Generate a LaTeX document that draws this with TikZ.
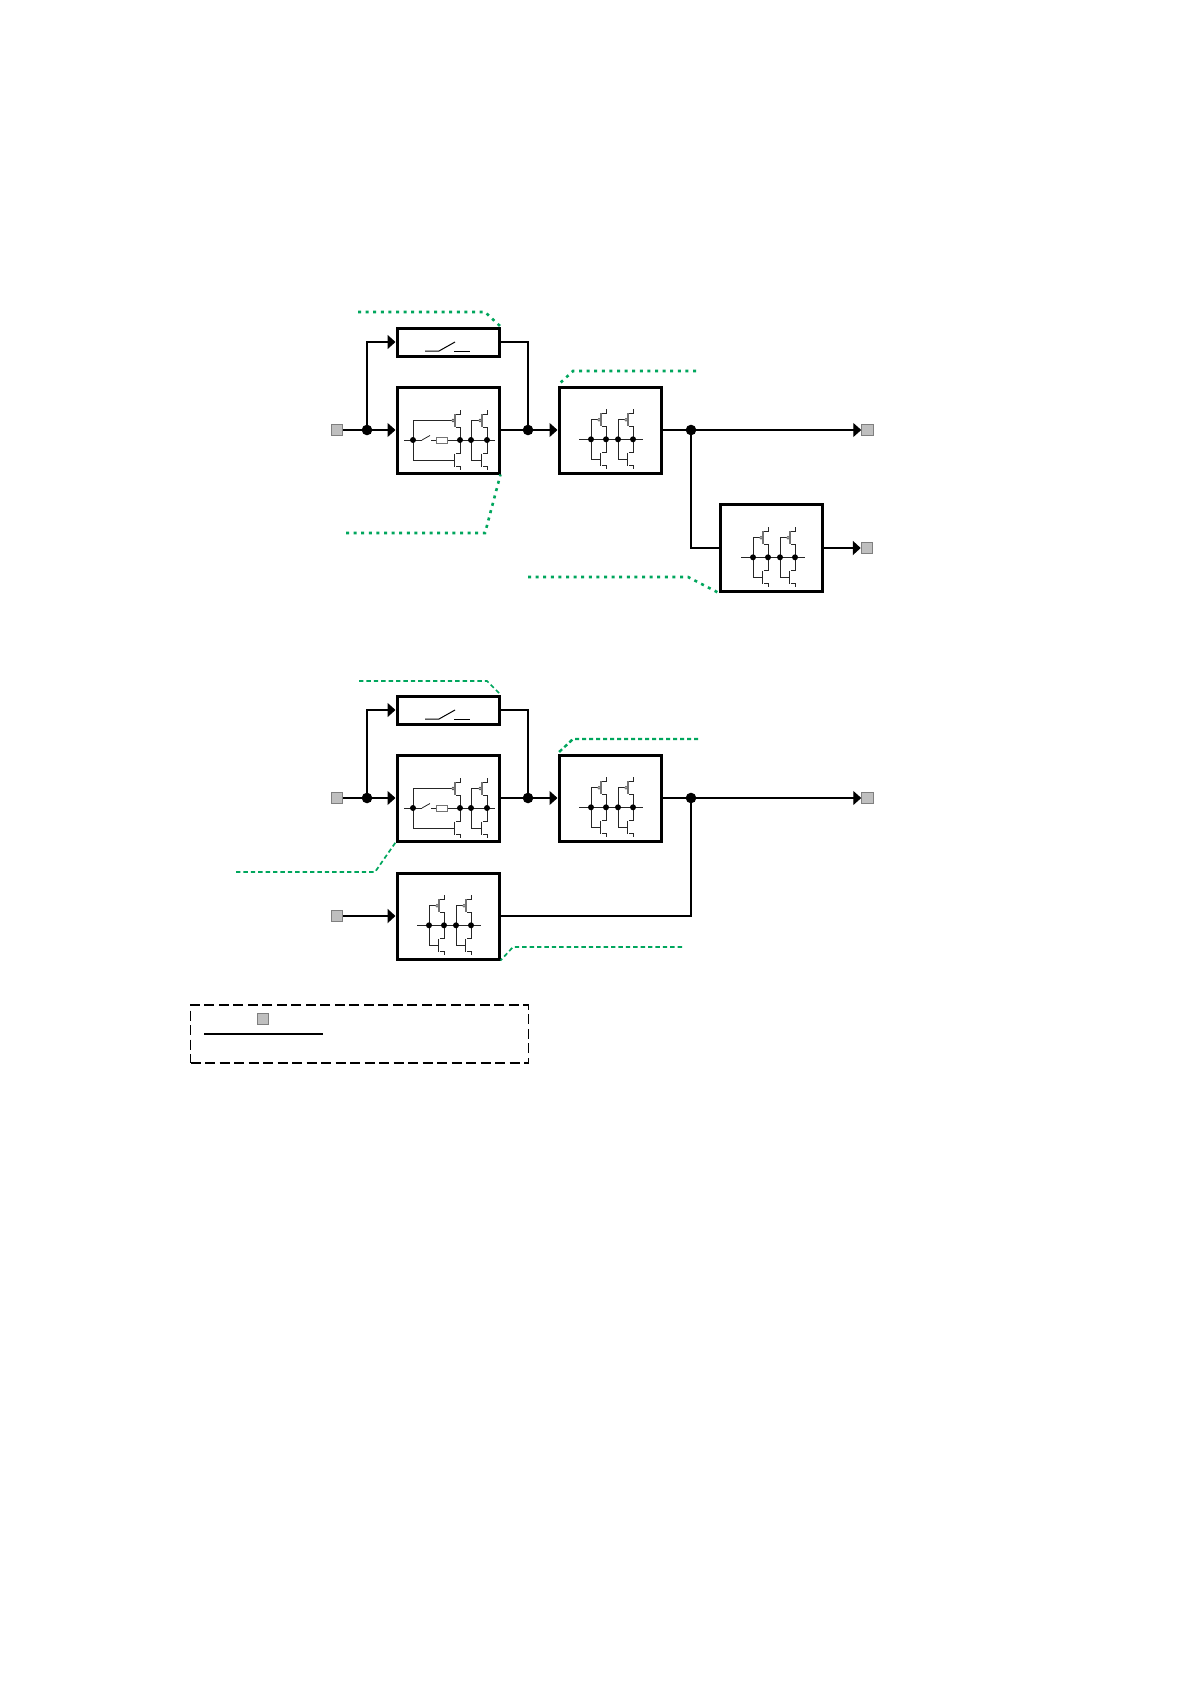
\documentclass[tikz,border=0pt]{standalone}
\usetikzlibrary{arrows.meta}
\definecolor{grn}{HTML}{00A65D}
\definecolor{sqf}{HTML}{BFBFBF}
\definecolor{sqd}{HTML}{7F7F7F}
\tikzset{
  x=1pt,y=-1pt,
  blockbox/.style={draw=black,line width=3pt,fill=white,minimum width=102pt,minimum height=86pt,inner sep=0pt},
  swbox/.style={blockbox,minimum height=28pt},
  port/.style={draw=sqd,line width=1pt,fill=sqf,minimum size=11.5pt,inner sep=0pt},
  bigdot/.style={circle,fill=black,minimum size=10.6pt,inner sep=0pt},
  wire/.style={draw=black,line width=1.1pt},
  heavywire/.style={draw=black,line width=2.1pt},
  arr/.style={-{Triangle[length=8pt,width=14pt]}},
  note/.style={draw=grn,line width=2.6pt,dash pattern=on 3pt off 4.6pt},
  notethin/.style={draw=grn,line width=1.7pt,dash pattern=on 4.4pt off 3pt},
  ckt/.style={draw=black!85,line width=0.8pt},
  cktgray/.style={draw=black!55,line width=0.9pt},
  tiny/.style={circle,fill=black,minimum size=6pt,inner sep=0pt},
  bub/.style={circle,draw=black!70,fill=white,line width=0.6pt,minimum size=2.8pt,inner sep=0pt},
}
% one gate pair: left rail a, right rail b, at height y
\newcommand{\tgate}[3]{%
  \draw[ckt] (#1,#3) -- (#1,#3-19.5) -- (#2-8,#3-19.5);
  \node[bub] at (#2-7,#3-19.5) {};
  \draw[cktgray,line width=1.3pt] (#2-5,#3-26) -- (#2-5,#3-13);
  \draw[ckt] (#2-4,#3-26) -- (#2,#3-26) -- (#2,#3-30);
  \draw[ckt] (#2-4,#3-13) -- (#2,#3-13) -- (#2,#3);
  \draw[ckt] (#1,#3) -- (#1,#3+20) -- (#2-6,#3+20);
  \draw[ckt,line width=1.2pt] (#2-5.5,#3+13.5) -- (#2-5.5,#3+26.5);
  \draw[ckt] (#2-4,#3+13.5) -- (#2,#3+13.5) -- (#2,#3);
  \draw[ckt] (#2-4,#3+26.5) -- (#2,#3+26.5) -- (#2,#3+30);
  \node[tiny] at (#1,#3) {};
  \node[tiny] at (#2,#3) {};
}
% double gate block, left edge x, mid y
\newcommand{\dgate}[2]{%
  \draw[ckt] (#1+21,#2+9.3) -- (#1+85,#2+9.3);
  \tgate{#1+33}{#1+48}{#2+9.3}
  \tgate{#1+60}{#1+75}{#2+9.3}
}
% gate block with bypass switch and resistor
\newcommand{\sgate}[2]{%
  \draw[ckt] (#1+8,#2+10) -- (#1+26,#2+10);
  \draw[ckt] (#1+26,#2+10) -- (#1+34,#2+5.5);
  \draw[ckt] (#1+35,#2+10) -- (#1+40,#2+10);
  \draw[ckt] (#1+51,#2+10) -- (#1+99,#2+10);
  \draw[cktgray,fill=white] (#1+40,#2+7.5) rectangle (#1+51,#2+13);
  \tgate{#1+17}{#1+64}{#2+10}
  \tgate{#1+75}{#1+91}{#2+10}
}
% contact drawn in the narrow block
\newcommand{\swsym}[2]{%
  \draw[black,line width=1pt] (#1+29,#2+9) -- (#1+43,#2+9) -- (#1+59,#2);
  \draw[black,line width=1pt] (#1+58,#2+9) -- (#1+74,#2+9);
}
\begin{document}
\begin{tikzpicture}
\useasboundingbox (0,0) rectangle (1191,1684);
\fill[white] (0,0) rectangle (1191,1684);

% ---- upper diagram ----
\node[swbox] (swA) at (448,342) {};
\node[blockbox] (gA) at (448,430) {};
\node[blockbox] (hA) at (610,430) {};
\node[blockbox,minimum height=87pt] (kA) at (771.5,548) {};
\node[port] (inA) at (337,430) {};
\node[port] (outA) at (867.5,430) {};
\node[port] (outB) at (867,548) {};
\node[bigdot] (jA) at (367,430) {};
\node[bigdot] (jB) at (528,430) {};
\node[bigdot] (jC) at (691,430) {};
\coordinate (nA1) at (358,312);
\coordinate (nA2) at (485,312);
\coordinate (nB1) at (346,533);
\coordinate (nB2) at (485,533);
\coordinate (nC1) at (573,371);
\coordinate (nC2) at (696,371);
\coordinate (nD1) at (528,577);
\coordinate (nD2) at (688,577);

\draw[wire] (inA) -- (jA.center);
\draw[wire,arr] (jA.center) -- (gA.west);
\draw[wire,line width=1.5pt,arr] (jA.center) |- (swA.west);
\draw[wire,line width=1.5pt] (swA.east) -| (jB.center);
\draw[wire] (gA.east) -- (jB.center);
\draw[wire,arr] (jB.center) -- (hA.west);
\draw[wire] (hA.east) -- (jC.center);
\draw[wire,arr] (jC.center) -- (outA);
\draw[wire,line width=1.5pt] (jC.center) |- (kA.west);
\draw[heavywire,arr] (kA.east) -- (outB);

\draw[note] (nA1) -- (nA2) -- (swA.north east);
\draw[note] (nB1) -- (nB2) -- (gA.south east);
\draw[note] (nC2) -- (nC1) -- (hA.north west);
\draw[note] (nD1) -- (nD2) -- (kA.south west);

\swsym{396}{342}
\sgate{396}{430}
\dgate{558}{430}
\dgate{720}{548}

% ---- lower diagram ----
\node[swbox] (swC) at (448,710) {};
\node[blockbox] (gC) at (448,798) {};
\node[blockbox] (hC) at (610,798) {};
\node[blockbox] (kC) at (448,916) {};
\node[port] (inC) at (337,798) {};
\node[port] (inD) at (337,916) {};
\node[port] (outC) at (867.5,798) {};
\node[bigdot] (jD) at (367,798) {};
\node[bigdot] (jE) at (528,798) {};
\node[bigdot] (jF) at (691,798) {};
\coordinate (nE1) at (359,681);
\coordinate (nE2) at (487,681);
\coordinate (nF1) at (236,872);
\coordinate (nF2) at (375,872);
\coordinate (nG1) at (573,739);
\coordinate (nG2) at (698,739);
\coordinate (nH1) at (513,947);
\coordinate (nH2) at (682,947);

\draw[wire] (inC) -- (jD.center);
\draw[wire,arr] (jD.center) -- (gC.west);
\draw[wire,line width=1.5pt,arr] (jD.center) |- (swC.west);
\draw[wire,line width=1.5pt] (swC.east) -| (jE.center);
\draw[wire] (gC.east) -- (jE.center);
\draw[wire,arr] (jE.center) -- (hC.west);
\draw[wire] (hC.east) -- (jF.center);
\draw[wire,arr] (jF.center) -- (outC);
\draw[wire,line width=1.5pt] (kC.east) -| (jF.center);
\draw[heavywire,arr] (inD) -- (kC.west);

\draw[notethin] (nE1) -- (nE2) -- (swC.north east);
\draw[notethin] (nF1) -- (nF2) -- (gC.south west);
\draw[draw=grn,line width=2.4pt,dash pattern=on 4pt off 3pt] (nG2) -- (nG1) -- (hC.north west);
\draw[notethin] (nH2) -- (nH1) -- (kC.south east);

\swsym{396}{710}
\sgate{396}{798}
\dgate{558}{798}
\dgate{396}{916}

% ---- key ----
\node[draw=black,line width=1.2pt,dash pattern=on 10pt off 4.5pt,minimum width=338pt,minimum height=58pt,inner sep=0pt] (key) at (359.5,1034) {};
\node[port] (keyport) at (263,1019) {};
\coordinate (keyA) at (204,1034);
\coordinate (keyB) at (323,1034);
\draw[heavywire] (keyA) -- (keyB);
\end{tikzpicture}
\end{document}
